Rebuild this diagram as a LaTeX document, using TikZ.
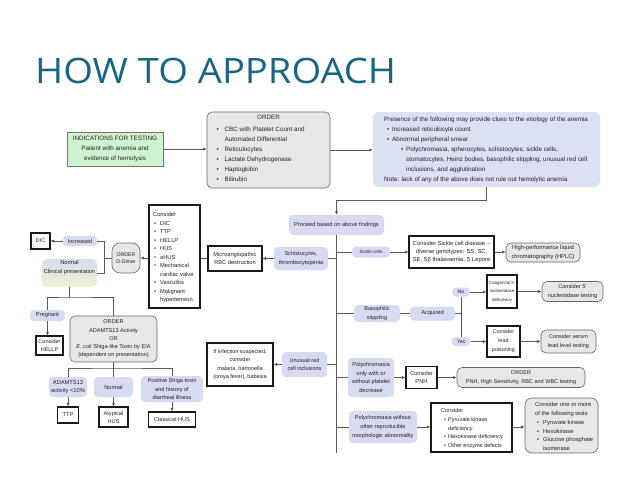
\documentclass[tikz,border=0pt]{standalone}
\usepackage{fontspec}
\setmainfont{Liberation Sans}
\newfontfamily\titlefont{Open Sans}
\usetikzlibrary{arrows.meta}
\definecolor{titlecol}{HTML}{1B6584}
\definecolor{bluefill}{HTML}{D6DBF1}
\definecolor{presfill}{HTML}{DCE0F3}
\definecolor{grayfill}{HTML}{E7E7E7}
\definecolor{greenfill}{HTML}{CFF3CF}
\definecolor{ylwfill}{HTML}{EEF3D2}
\definecolor{txt}{HTML}{222222}
\newcommand\fz[2]{\fontsize{#1}{#2}\selectfont}
\newcommand\bu[1][7]{\makebox[#1pt][l]{\textbullet}}
\newcommand\ind[1]{\hspace*{#1pt}}
\tikzset{
  bx/.style={inner sep=0pt, align=center, font=\fz{5.7}{8.3}, text=txt},
  sz/.style 2 args={minimum width=#1pt, minimum height=#2pt},
  blu/.style={bx, fill=bluefill, rounded corners=4pt},
  gry/.style={bx, fill=grayfill, draw=black!60, line width=0.6pt, rounded corners=5pt},
  thk/.style={bx, fill=white, draw=black!90, line width=1.1pt},
  txtl/.style={inner sep=0pt, align=left, font=\fz{5.7}{8.5}, text=txt, anchor=north west},
  ln/.style={draw=black!65, line width=0.6pt},
  ar/.style={ln, -{Latex[length=3.5pt,width=3pt,fill=black]}},
}
\begin{document}
\begin{tikzpicture}[x=1pt,y=-1pt]
\useasboundingbox (0,0) rectangle (638,479);
\node[anchor=base west, inner sep=0pt, text=titlecol, font=\titlefont\fz{35}{40}] (title) at (35,83) {\scalebox{1.09}[1]{HOW TO APPROACH}};

% top row
\node[bx, fill=greenfill, draw=black!55, line width=0.6pt, sz={96}{34}, font=\fz{6.3}{10}] (ind) at (115,149) {INDICATIONS FOR TESTING\\Patient with anemia and\\evidence of hemolysis};
\node[gry, sz={123}{76}] (ord) at (268.5,150) {};
\node[txtl, anchor=north, font=\fz{6.3}{10}] (ordh) at (268.5,114.5) {ORDER};
\node[txtl, font=\fz{6.3}{10}] (ordl) at (216.5,126.5) {\bu[8]CBC with Platelet Count and\\\ind{8}Automated Differential\\\bu[8]Reticulocytes\\\bu[8]Lactate Dehydrogenase\\\bu[8]Haptoglobin\\\bu[8]Bilirubin};
\node[bx, fill=presfill, rounded corners=6pt, sz={227}{75}] (pres) at (486.5,149.5) {};
\node[txtl, font=\fz{6.3}{10}] (presl) at (384,116.5) {Presence of the following may provide clues to the etiology of the anemia\\\ind{3}\bu[5]Increased reticulocyte count\\\ind{3}\bu[5]Abnormal peripheral smear\\\ind{17}\bu[5]Polychromasia, spherocytes, schistocytes, sickle cells,\\\ind{22}stomatocytes, Heinz bodies, basophilic stippling, unusual red cell\\\ind{22}inclusions, and agglutination\\Note: lack of any of the above does not rule out hemolytic anemia};
\draw[ar] (ind.east) -- (ord.west |- ind.east);
\draw[ar] (ord.east) -- (pres.west |- ord.east);

% trunk
\node[blu, sz={95}{20}] (proc) at (336.5,225) {Proceed based on above findings};
\coordinate (p2) at (336.5,200);
\coordinate (tend) at (336.5,453);
\draw[ar] (pres.south) |- (p2) -- (proc.north);
\draw[ln] (proc.south) -- (tend);

% left: schistocytes branch
\node[blu, sz={54}{23}, font=\fz{5.6}{9}] (sch) at (301,258.5) {Schistocytes,\\thrombocytopenia};
\node[thk, sz={54}{25}] (mic) at (235,258.5) {Microangiopathic\\RBC destruction};
\draw[ln] (proc.south |- sch.east) -- (sch.east);
\draw[ar] (sch.west) -- (mic.east);
\node[thk, sz={51}{103}] (cons) at (174.5,256.5) {};
\node[txtl] (consl) at (153,212.5) {Consider\\\ind{1}\bu[6]DIC\\\ind{1}\bu[6]TTP\\\ind{1}\bu[6]HELLP\\\ind{1}\bu[6]HUS\\\ind{1}\bu[6]aHUS\\\ind{1}\bu[6]Mechanical\\\ind{7}cardiac valve\\\ind{1}\bu[6]Vasculitis\\\ind{1}\bu[6]Malignant\\\ind{7}hypertension};
\draw[ln] (mic.west) -- (mic.west -| cons.east);
\node[gry, rounded corners=8pt, sz={28}{30}, font=\fz{5.2}{7.3}] (dd) at (126,258) {ORDER\\D-Dimer};
\draw[ar] (cons.west |- dd.east) -- (dd.east);
\coordinate (j1) at (104,258);
\node[blu, sz={34}{10}, font=\fz{5.6}{8}] (inc) at (80,241) {Increased};
\node[thk, sz={19}{16}, font=\fz{5.4}{8}] (dic) at (40.5,241) {DIC};
\node[bx, rounded corners=5pt, top color=bluefill, bottom color=ylwfill, sz={55}{28}] (nor) at (69.5,273) {};
\node[bx] (norl) at (69.5,267.5) {Normal\\Clinical presentation};
\draw[ln] (dd.west) -- (j1);
\draw[ln] (inc.east) -- (inc.east -| j1) -- (j1 |- nor.east) -- (nor.east);
\draw[ar] (inc.west) -- (dic.east);

\coordinate (j2) at (69.5,297);
\node[blu, sz={35}{11}] (preg) at (47.5,315.5) {Pregnant};
\node[thk, sz={27}{19}, font=\fz{5.5}{8.7}] (hel) at (49.5,345.5) {Consider\\HELLP};
\node[gry, sz={87}{46}, font=\fz{5.6}{8.3}] (adm) at (113.5,339) {ORDER\\ADAMTS13 Activity\\OR\\\textit{E. coli} Shiga-like Toxin by EIA\\(dependent on presentation)};
\draw[ln] (nor.south) -- (j2);
\draw[ln] (preg.north) |- (j2) -| (adm.north);
\draw[ar] (preg.south) -- (hel.north -| preg.south);

\coordinate (j3) at (113.5,368);
\node[blu, sz={38}{20}] (a10) at (68,387) {ADAMTS13\\activity <10\%};
\node[blu, sz={39}{20}] (nrm) at (113.5,387) {Normal};
\node[blu, sz={62}{26}, font=\fz{5.6}{8.3}] (shg) at (172,389) {Positive Shiga toxin\\and history of\\diarrheal illness};
\draw[ln] (adm.south) -- (j3);
\draw[ln] (a10.north) |- (j3) -| (shg.north);
\draw[ln] (j3) -- (nrm.north);
\node[thk, sz={21}{16}, font=\fz{5.6}{8}] (ttp) at (68,415) {TTP};
\node[thk, sz={29}{20}, font=\fz{5.6}{8}] (ahus) at (113.5,417) {Atypical\\HUS};
\node[thk, sz={47}{15}, font=\fz{5.6}{8}] (chus) at (172,419.5) {Classical HUS};
\draw[ar] (a10.south) -- (ttp.north);
\draw[ar] (nrm.south) -- (ahus.north);
\draw[ar] (shg.south) -- (chus.north);

% left: unusual inclusions
\node[blu, sz={45}{25}, font=\fz{5.5}{8.3}] (unu) at (304.5,364.5) {Unusual red\\cell inclusions};
\node[thk, sz={66}{43}, font=\fz{5.5}{8.5}] (inf) at (240,364.5) {If infection suspected,\\consider\\malaria, bartonella\\(oroya fever), babesia};
\draw[ln] (proc.south |- unu.east) -- (unu.east);
\draw[ar] (unu.west) -- (inf.east);

% right: sickle cells
\node[blu, sz={38}{11}, font=\fz{4.6}{7}] (sic) at (371,252) {Sickle cells};
\node[thk, sz={85}{32}, font=\fz{5.8}{7.8}] (sicc) at (451.5,252) {Consider Sickle cell disease --\\diverse genotypes: SS, SC,\\SE, Sβ thalassemia, S Lepore};
\node[gry, sz={74}{19}, font=\fz{5.8}{8.7}] (hplc) at (543,252.5) {High-performance liquid\\chromatography (HPLC)};
\draw[ln] (proc.south |- sic.west) -- (sic.west);
\draw[ar] (sic.east) -- (sicc.west);
\draw[ar] (sicc.east) -- (hplc.west |- sicc.east);

% right: basophilic stippling
\node[blu, sz={46}{17}, font=\fz{5.5}{8.3}] (bas) at (377,313.5) {Basophilic\\stippling};
\node[blu, sz={45}{14}] (acq) at (432.5,313.5) {Acquired};
\node[blu, sz={18}{9}, font=\fz{5.2}{8}] (no) at (461,292) {No};
\node[blu, sz={19}{9}, font=\fz{5.2}{8}] (yes) at (461,341.5) {Yes};
\draw[ln] (proc.south |- bas.west) -- (bas.west);
\draw[ln] (bas.east) -- (acq.west);
\draw[ln] (no.south) -- (yes.north);
\draw[ln] (acq.east) -- (acq.east -| no.south);
\node[thk, sz={30}{33}, font=\fz{4.4}{8.5}] (cong) at (502,291.5) {Congenital 5'\\nucleotidase\\deficiency};
\node[gry, sz={61}{20}, font=\fz{5.6}{9}] (con5) at (572.5,291.5) {Consider 5'\\nucleotidase testing};
\node[thk, sz={33}{31}, font=\fz{5.3}{9}] (lead) at (503.5,341.5) {Consider\\lead\\poisoning};
\node[gry, sz={55}{23}, font=\fz{5.5}{8.3}] (ser) at (568.5,341.5) {Consider serum\\lead level testing};
\draw[ar] (no.east) -- (cong.west |- no.east);
\draw[ar] (cong.east) -- (con5.west);
\draw[ar] (yes.east) -- (lead.west);
\draw[ar] (lead.east) -- (ser.west);

% right: polychromasia (PNH)
\node[blu, sz={46}{39}, font=\fz{5.7}{8.8}] (po1) at (371,377.5) {Polychromasia\\only with or\\without platelet\\decrease};
\node[thk, sz={31}{22}, font=\fz{5.7}{8.3}] (pnh) at (421.5,377.5) {Consider\\PNH};
\node[gry, sz={128}{20}, font=\fz{5.55}{8.3}] (opnh) at (521,377.5) {ORDER\\PNH, High Sensitivity, RBC and WBC testing};
\draw[ln] (proc.south |- po1.west) -- (po1.west);
\draw[ar] (po1.east) -- (pnh.west);
\draw[ar] (pnh.east) -- (opnh.west);

% right: polychromasia (enzymes)
\node[blu, sz={68}{32}, font=\fz{5.6}{8.7}] (po2) at (383,427) {Polychromasia without\\other reproducible\\morphologic abnormality};
\node[thk, sz={81}{49}] (enz) at (471.5,427.5) {};
\node[txtl, font=\fz{5.5}{8.75}] (enzl) at (441,408.5) {Consider\\\ind{3}\bu[4]Pyruvate kinase\\\ind{7}deficiency\\\ind{3}\bu[4]Hexokinase deficiency\\\ind{3}\bu[4]Other enzyme defects};
\node[gry, rounded corners=7pt, sz={73}{55}] (tst) at (561.5,425.5) {};
\node[txtl, font=\fz{5.8}{8.7}] (tstl) at (535,402.5) {Consider one or more\\of the following tests\\\ind{2}\bu[6]Pyruvate kinase\\\ind{2}\bu[6]Hexokinase\\\ind{2}\bu[6]Glucose phosphate\\\ind{8}isomerase};
\draw[ln] (proc.south |- po2.west) -- (po2.west);
\draw[ar] (po2.east) -- (enz.west |- po2.east);
\draw[ar] (enz.east |- po2.east) -- (tst.west |- po2.east);
\end{tikzpicture}
\end{document}
